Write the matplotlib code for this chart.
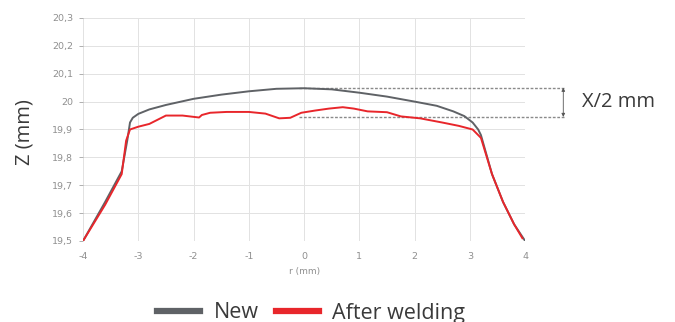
import matplotlib
matplotlib.use("Agg")
import matplotlib.pyplot as plt

# ---- data ----
r_new = [-4.0, -3.6, -3.3, -3.2, -3.15, -3.1, -3.0, -2.8, -2.5, -2.0, -1.5, -1.0, -0.5, 0.0,
         0.5, 1.0, 1.5, 2.0, 2.4, 2.7, 2.9, 3.05, 3.15, 3.2, 3.4, 3.6, 3.8, 4.0]
z_new = [19.5, 19.64, 19.75, 19.86, 19.925, 19.942, 19.956, 19.972, 19.988, 20.01, 20.025, 20.037, 20.046, 20.048,
         20.044, 20.032, 20.018, 20.0, 19.985, 19.965, 19.948, 19.925, 19.9, 19.88, 19.74, 19.64, 19.56, 19.5]

r_weld = [-4.0, -3.6, -3.3, -3.22, -3.15, -3.0, -2.8, -2.5, -2.2, -1.9, -1.85, -1.7, -1.4,
          -1.0, -0.7, -0.45, -0.25, -0.05, 0.2, 0.45, 0.7, 0.9, 1.15, 1.5, 1.75, 2.1, 2.5,
          2.8, 3.05, 3.2, 3.4, 3.6, 3.8, 3.95]
z_weld = [19.5, 19.63, 19.74, 19.86, 19.9, 19.91, 19.92, 19.95, 19.95, 19.943, 19.952, 19.96, 19.963,
          19.963, 19.957, 19.94, 19.942, 19.96, 19.968, 19.975, 19.98, 19.975, 19.965, 19.962, 19.947,
          19.94, 19.925, 19.913, 19.9, 19.87, 19.74, 19.64, 19.56, 19.51]

x_ticks = [-4, -3, -2, -1, 0, 1, 2, 3, 4]
y_ticks = [19.5, 19.6, 19.7, 19.8, 19.9, 20.0, 20.1, 20.2, 20.3]
y_tick_labels = ['19,5', '19,6', '19,7', '19,8', '19,9', '20', '20,1', '20,2', '20,3']

band_top = 20.05
band_bottom = 19.945
band_start = -0.1
band_end = 4.72

series_names = ['New', 'After welding']
series_colors = ['#5f6266', '#e8262b']

# ---- figure ----
fig = plt.figure(figsize=(6.75, 3.22), dpi=100)
ax = fig.add_axes([0.123, 0.2516, 0.655, 0.6925])

ax.plot(r_new, z_new, color=series_colors[0], lw=1.4, label=series_names[0], zorder=3)
ax.plot(r_weld, z_weld, color=series_colors[1], lw=1.4, label=series_names[1], zorder=4)

ax.set_xlim(-4, 4)
ax.set_ylim(19.5, 20.3)
ax.set_xticks(x_ticks)
ax.set_xticklabels([str(t) for t in x_ticks])
ax.set_yticks(y_ticks)
ax.set_yticklabels(y_tick_labels)
ax.tick_params(axis='both', labelsize=6.8, colors='#8f8f8f', length=3, width=0.5, pad=4)
ax.tick_params(axis='x', length=0, pad=8)
ax.grid(True, color='#e2e2e2', lw=0.7)
for s in ax.spines.values():
    s.set_visible(False)
ax.set_axisbelow(True)

ax.set_xlabel('r (mm)', fontsize=6.5, color='#8f8f8f', labelpad=4)

# annotation band
ax.plot([band_start, band_end], [band_top, band_top], color='#8a8a8a', lw=1.0,
        ls=(0, (2, 1.2)), clip_on=False, zorder=2)
ax.plot([band_start, band_end], [band_bottom, band_bottom], color='#8a8a8a', lw=1.0,
        ls=(0, (2, 1.2)), clip_on=False, zorder=2)
ax.annotate('', xy=(4.69, band_top), xytext=(4.69, band_bottom),
            arrowprops=dict(arrowstyle='<|-|>', color='#555555', lw=0.6,
                            mutation_scale=5, shrinkA=0, shrinkB=0),
            annotation_clip=False)
ax.text(5.03, (band_top + band_bottom) / 2, 'X/2 mm', fontsize=14.5, color='#3a3a3a',
        ha='left', va='center', clip_on=False, family='Open Sans')

fig.text(0.036, 0.59, 'Z (mm)', rotation=90, fontsize=14.5, color='#3a3a3a',
         ha='center', va='center', family='Open Sans')

fig.legend(loc='center', bbox_to_anchor=(311 / 675, 1 - 313 / 322), ncol=2, frameon=False,
           prop={'family': 'Open Sans', 'size': 15.5}, handlelength=2.0, handletextpad=0.6,
           columnspacing=0.8, labelcolor='#3a3a3a', borderpad=0)
for lh in fig.legends[0].get_lines():
    lh.set_linewidth(4.5)

fig.savefig('out.png', dpi=100, facecolor='white')
